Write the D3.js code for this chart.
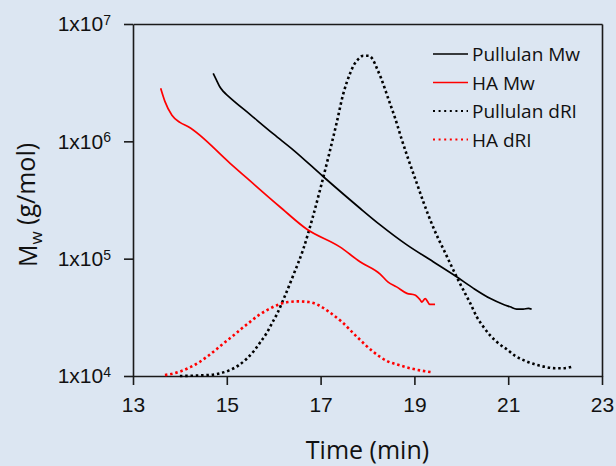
<!DOCTYPE html>
<html>
<head>
<meta charset="utf-8">
<script src="https://cdn.jsdelivr.net/npm/d3@7"></script>
<style>
    body { margin: 0; background: #dce6f2; }
    svg { display: block; font-family: "Open Sans", sans-serif; }
    .axis path, .axis line { stroke: #1a1a1a; stroke-width: 1.6px; }
    .axis text { fill: #111; font-size: 21px; }
    .legend-text { font-size: 19px; fill: #111; }
    .title { font-size: 25px; fill: #111; }
</style>
</head>
<body>
<div id="chart"></div>
<script>
// Pullulan Mw (g/mol) vs elution time (min)
const pullulanTime = [14.71, 14.78, 14.85, 14.93, 15.03, 15.5, 16.0, 16.42, 17.06, 17.84, 18.27, 18.84,
    19.4, 19.9, 20.26, 20.61, 20.9, 21.04, 21.18, 21.32, 21.43, 21.5];
const pullulanMw = [3.80e6, 3.33e6, 2.92e6, 2.65e6, 2.43e6, 1.69e6, 1.15e6, 8.43e5, 4.99e5, 2.69e5, 1.94e5, 1.31e5,
    9.42e4, 7.01e4, 5.58e4, 4.59e4, 4.07e4, 3.89e4, 3.72e4, 3.72e4, 3.77e4, 3.70e4];

// HA Mw (g/mol)
const haTime = [13.59, 13.68, 13.83, 14.0, 14.18, 15.07, 16.13, 16.7, 17.41, 17.84, 18.27, 18.44, 18.62,
    18.84, 19.01, 19.12, 19.16, 19.23, 19.33, 19.44];
const haMw = [2.83e6, 2.19e6, 1.67e6, 1.45e6, 1.33e6, 6.5e5, 2.77e5, 1.79e5, 1.26e5, 9.42e4, 7.40e4, 6.31e4, 5.75e4,
    5.06e4, 4.90e4, 4.47e4, 4.27e4, 4.57e4, 4.07e4, 4.07e4];

// dRI signals (relative units, 0-100)
const pullulanRiTime = [14.0, 14.3, 14.62, 14.84, 15.05, 15.25, 15.43, 15.59, 15.72, 15.85, 15.96, 16.07, 16.2,
    16.42, 16.63, 16.83, 17.01, 17.19, 17.34, 17.48, 17.63, 17.72, 17.81, 17.91, 18.02, 18.11, 18.2,
    18.29, 18.44, 18.59, 18.73, 18.87, 19.05, 19.19, 19.3, 19.4, 19.51, 19.62, 19.72, 19.83, 19.94, 20.08,
    20.19, 20.33, 20.47, 20.61, 20.79, 20.97, 21.14, 21.36, 21.57, 21.78, 22.0, 22.17, 22.35];
const pullulanRi = [0, 0.1, 0.3, 0.7, 1.6, 3.0, 5.0, 7.3, 9.7, 12.2, 14.9, 17.6, 21.5,
    28.7, 36.0, 45.0, 54.0, 63.5, 71.8, 80.0, 86.0, 88.6, 90.1, 91.0, 91.0, 90.0, 87.4,
    84.6, 78.9, 73.2, 67.2, 61.6, 54.8, 49.5, 45.6, 42.3, 39.0, 36.0, 33.2, 30.1, 27.1, 23.5,
    20.7, 16.8, 14.0, 11.6, 9.3, 7.6, 5.8, 4.3, 3.3, 2.6, 2.2, 2.2, 2.6];

const haRiTime = [13.68, 13.79, 14.01, 14.22, 14.41, 14.6, 14.78, 14.96, 15.14, 15.31, 15.49, 15.68, 15.87,
    16.07, 16.3, 16.52, 16.75, 16.96, 17.15, 17.45, 17.77, 18.12, 18.44, 18.67, 18.91, 19.12, 19.35];
const haRi = [0.3, 0.5, 1.3, 2.5, 3.9, 5.7, 7.6, 9.6, 11.5, 13.4, 15.3, 17.3, 18.8,
    20.1, 21.0, 21.2, 21.0, 20.1, 18.5, 15.4, 11.2, 6.9, 4.1, 3.1, 2.2, 1.6, 1.1];

const xTicks = [13, 15, 17, 19, 21, 23];
const yTicks = [1e4, 1e5, 1e6, 1e7];
const legendLabels = ["Pullulan Mw", "HA Mw", "Pullulan dRI", "HA dRI"];

const W = 616, H = 466;
const margin = {left: 133, top: 24, right: 14, bottom: 90};
const width = W - margin.left - margin.right;
const height = H - margin.top - margin.bottom;

let svg = d3.select("#chart")
    .append("svg")
    .attr("width", W)
    .attr("height", H);

let chart = svg.append("g")
    .attr("transform", "translate(" + margin.left + "," + margin.top + ")");

let x = d3.scaleLinear().domain([13, 23]).range([0, width]);
let y = d3.scaleLog().domain([1e4, 1e7]).range([height, 0]);
// hidden secondary scale for the detector signal
let yRi = d3.scaleLinear().domain([0, 100]).range([height, 0]);

// frame: top and right
chart.append("g").attr("class", "axis")
    .call(d3.axisTop(x).tickValues([]).tickSizeOuter(0));
chart.append("g").attr("class", "axis")
    .attr("transform", "translate(" + width + ",0)")
    .call(d3.axisRight(y).tickValues([]).tickSizeOuter(0));

let xAxis = chart.append("g").attr("class", "axis")
    .attr("transform", "translate(0," + height + ")")
    .call(d3.axisBottom(x).tickValues(xTicks).tickSize(9).tickSizeOuter(0).tickPadding(12));

let yAxis = chart.append("g").attr("class", "axis")
    .call(d3.axisLeft(y).tickValues(yTicks).tickSize(9).tickSizeOuter(0).tickPadding(13));

yAxis.selectAll(".tick text")
    .text(null)
    .each(function(d) {
        const t = d3.select(this);
        t.append("tspan").text("1x10");
        t.append("tspan")
            .attr("dy", "-0.45em")
            .attr("font-size", "14px")
            .text(Math.round(Math.log10(d)));
    });

const line = function(xs, ys, yScale) {
    return d3.line()
        .x(function(d, i) { return x(xs[i]); })
        .y(function(d, i) { return yScale(ys[i]); })
        .curve(d3.curveMonotoneX)(xs);
};

const series = [
    {t: pullulanRiTime, v: pullulanRi, s: yRi, color: "#000", dash: "2.5,2.8", w: 2.6},
    {t: haRiTime, v: haRi, s: yRi, color: "#ff0000", dash: "2.5,2.8", w: 2.6},
    {t: pullulanTime, v: pullulanMw, s: y, color: "#000", dash: null, w: 1.7},
    {t: haTime, v: haMw, s: y, color: "#ff0000", dash: null, w: 1.7}
];

series.forEach(function(e) {
    chart.append("path")
        .attr("d", line(e.t, e.v, e.s))
        .attr("fill", "none")
        .attr("stroke", e.color)
        .attr("stroke-width", e.w)
        .attr("stroke-dasharray", e.dash);
});

// legend
const legendStyle = [
    {color: "#000", dash: null, w: 1.7},
    {color: "#ff0000", dash: null, w: 1.7},
    {color: "#000", dash: "2,3.6", w: 2.2},
    {color: "#ff0000", dash: "2,3.6", w: 2.2}
];
let legend = svg.append("g");
legendLabels.forEach(function(label, i) {
    const ly = 54 + i * 28.5;
    legend.append("line")
        .attr("x1", 433).attr("x2", 468)
        .attr("y1", ly).attr("y2", ly)
        .attr("stroke", legendStyle[i].color)
        .attr("stroke-width", legendStyle[i].w)
        .attr("stroke-dasharray", legendStyle[i].dash);
    legend.append("text")
        .attr("class", "legend-text")
        .attr("x", 472)
        .attr("y", ly + 7)
        .text(label);
});

// axis titles
svg.append("text")
    .attr("class", "title")
    .attr("x", margin.left + width / 2)
    .attr("y", 459)
    .attr("text-anchor", "middle")
    .text("Time (min)");

let yTitle = svg.append("text")
    .attr("class", "title")
    .attr("transform", "translate(37," + (margin.top + height / 2 + 5) + ") rotate(-90)")
    .attr("text-anchor", "middle");
yTitle.append("tspan").text("M");
yTitle.append("tspan").attr("dy", "0.3em").attr("font-size", "17px").text("w");
yTitle.append("tspan").attr("dy", "-0.3em").text(" (g/mol)");
</script>
</body>
</html>
